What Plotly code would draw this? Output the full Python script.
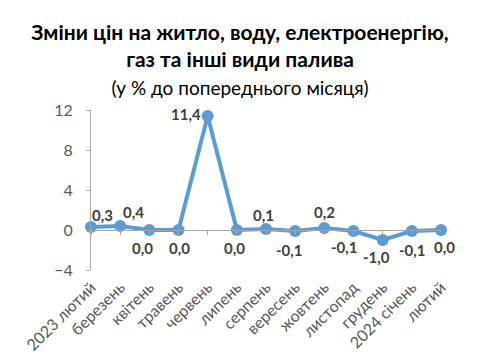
import plotly.graph_objects as go

months = ["2023 лютий", "березень", "квітень", "травень", "червень", "липень",
          "серпень", "вересень", "жовтень", "листопад", "грудень", "2024 січень", "лютий"]
values = [0.3, 0.4, 0.0, 0.0, 11.4, 0.0, 0.1, -0.1, 0.2, -0.1, -1.0, -0.1, 0.0]
y_ticks = [-4, 0, 4, 8, 12]

# label offsets (pixels) relative to each point
label_dx = [11, 13, -7, 1, -22, -2, -3, -6, 0, -9, -6, 1, 3]
label_dy = [-12, -14, 18, 18, -2, 18, -14, 19, -16, 16, 17, 19, 17]

idx = list(range(len(months)))
labels = [f"{v:.1f}".replace(".", ",") for v in values]

fig = go.Figure()
fig.add_trace(go.Scatter(
    x=idx, y=values, mode="lines+markers",
    line=dict(color="#5B9BD5", width=4),
    marker=dict(color="#5B9BD5", size=12),
    cliponaxis=False, hoverinfo="skip", showlegend=False,
))
fig.add_trace(go.Scatter(x=idx, y=[None] * len(idx), xaxis="x2", yaxis="y",
                         showlegend=False, hoverinfo="skip"))

for xi, yi, t, dx, dy in zip(idx, values, labels, label_dx, label_dy):
    fig.add_annotation(
        x=xi, y=yi, text=t, showarrow=False,
        xshift=dx, yshift=-dy,
        xanchor="center", yanchor="middle",
        font=dict(family="Lato", size=15, color="#404040", weight="bold"),
    )

axis_gray = "#A6A6A6"
fig.update_layout(
    width=480, height=363,
    margin=dict(l=91, r=39, t=110, b=93, autoexpand=False),
    paper_bgcolor="white", plot_bgcolor="white",
    title=dict(
        text="<b>Зміни цін на житло, воду, електроенергію,<br>газ та інші види палива</b>"
             "<br><span style='font-size:19px;font-weight:normal'>(у % до попереднього місяця)</span>",
        x=0.5, xanchor="center", y=0.89, yanchor="top",
        font=dict(family="Lato", size=21, color="#000000"),
    ),
    xaxis=dict(
        range=[0, 12], tickmode="array", tickvals=idx, ticktext=months,
        tickangle=-45, showline=False, showgrid=False, zeroline=False, ticks="",
        automargin=False, ticklabelstandoff=4,
        tickfont=dict(family="Lato", size=16, color="#595959"),
    ),
    xaxis2=dict(
        range=[0, 12], overlaying="x", anchor="free", position=0.25,
        tickmode="array", tickvals=idx, showticklabels=False,
        showline=True, linecolor=axis_gray, linewidth=1,
        ticks="outside", ticklen=4, tickcolor=axis_gray,
        showgrid=False, zeroline=False,
    ),
    yaxis=dict(
        range=[-4, 12], tickmode="array", tickvals=y_ticks,
        showline=True, linecolor=axis_gray, linewidth=1,
        ticks="outside", ticklen=4, tickcolor=axis_gray,
        showgrid=False, zeroline=False, automargin=False,
        ticklabelstandoff=10,
        tickfont=dict(family="Lato", size=16, color="#595959"),
    ),
)

fig.write_html("out.html", config={"displayModeBar": False},
               post_script="document.body.style.margin='0';")
